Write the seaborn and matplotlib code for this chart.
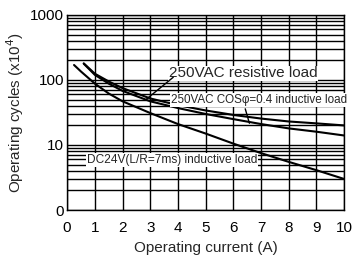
import numpy as np
import pandas as pd
import matplotlib
matplotlib.use("Agg")
import matplotlib.pyplot as plt
from matplotlib.ticker import LogLocator, FixedLocator, NullFormatter
import seaborn as sns

# --- data ---
res_x = [0.6, 1, 1.5, 2, 3, 4, 5, 6, 7, 8, 9, 10]
res_y = [180, 125, 95, 75, 52, 41, 34, 29, 25.5, 23, 21.5, 20]

ind_x = [0.6, 1, 1.5, 2, 3, 4, 5, 6, 7, 8, 9, 10]
ind_y = [178, 120, 88, 68, 47, 37, 30, 25, 21, 18, 16, 14]

dc_x = [0.25, 0.5, 1, 1.5, 2, 3, 4, 5, 6, 7, 8, 9, 10]
dc_y = [170, 135, 88, 62, 47, 31, 21, 15, 10.5, 7.5, 5.5, 4.1, 3]

x_ticks = list(range(0, 11))
y_ticks = [1, 10, 100, 1000]
y_tick_labels = ["0", "10", "100", "1000"]

df = pd.concat([
    pd.DataFrame({"current": res_x, "cycles": res_y, "load": "resistive"}),
    pd.DataFrame({"current": ind_x, "cycles": ind_y, "load": "inductive"}),
    pd.DataFrame({"current": dc_x, "cycles": dc_y, "load": "dc"}),
])

sns.set_style("white")
plt.rcParams["font.family"] = ["Liberation Sans", "DejaVu Sans"]

fig = plt.figure(figsize=(3.57, 2.58), dpi=100)
ax = fig.add_axes([0.188, 0.186, 0.776, 0.756])

sns.lineplot(data=df, x="current", y="cycles", units="load", estimator=None,
             color="black", linewidth=1.5, ax=ax, legend=False, sort=False)

ax.set_yscale("log")
ax.set_xlim(0, 10)
ax.set_ylim(1, 1000)

ax.xaxis.set_major_locator(FixedLocator(x_ticks))
ax.yaxis.set_major_locator(FixedLocator(y_ticks))
ax.set_yticklabels(y_tick_labels)
ax.yaxis.set_minor_locator(LogLocator(base=10, subs=np.arange(2, 10)))
ax.yaxis.set_minor_formatter(NullFormatter())

ax.grid(True, which="major", axis="both", color="black", linewidth=1.0)
ax.grid(True, which="minor", axis="y", color="black", linewidth=1.0)
ax.set_axisbelow(True)
for s in ax.spines.values():
    s.set_color("black")
    s.set_linewidth(1.0)

ax.tick_params(axis="both", which="both", length=0, labelsize=11, colors="black")
ax.tick_params(axis="x", pad=8)
ax.tick_params(axis="y", pad=2)
ax.set_xlabel("Operating current (A)", fontsize=11, labelpad=4)
ax.set_ylabel("Operating cycles (x10$^4$)", fontsize=11, labelpad=3)

box = dict(facecolor="white", edgecolor="none", pad=0.5)
ax.text(3.68, 126, "250VAC resistive load", fontsize=11, ha="left", va="center", bbox=box, zorder=5)
ax.text(3.75, 49, "250VAC COS\u03c6=0.4 inductive load", fontsize=8.4, ha="left", va="center",
        bbox=box, zorder=5)
ax.text(0.72, 5.9, "DC24V(L/R=7ms) inductive load", fontsize=8.6, ha="left", va="center",
        bbox=box, zorder=5)

# pointer lines
ax.plot([3.83, 2.82], [110, 49], color="black", linewidth=1.0, zorder=6)
ax.plot([6.43, 6.58], [36, 21.6], color="black", linewidth=1.0, zorder=6)

fig.savefig("out.png", dpi=100)
